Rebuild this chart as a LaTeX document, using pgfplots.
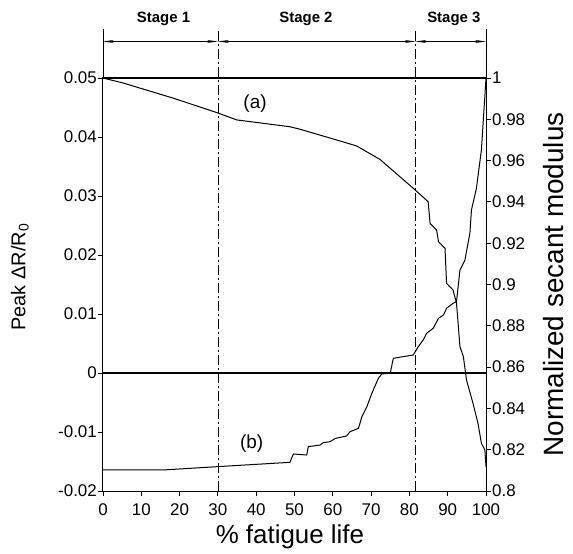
\documentclass[border=0pt]{standalone}
\usepackage{pgfplots}
\pgfplotsset{compat=1.18}
\usepackage{fontspec}
\setmainfont{Liberation Sans}
\usetikzlibrary{arrows.meta}

\begin{document}
\begin{tikzpicture}
\path[use as bounding box] (-103bp,-63bp) rectangle (470bp,491bp);
\begin{axis}[
  scale only axis, width=383bp, height=413bp,
  xmin=0, xmax=100, ymin=-0.02, ymax=0.05,
  clip=false, scaled y ticks=false, scaled x ticks=false,
  xtick={0,10,20,30,40,50,60,70,80,90,100},
  xticklabels={0,10,20,30,40,50,60,70,80,90,100},
  ytick={-0.02,-0.01,0,0.01,0.02,0.03,0.04,0.05},
  yticklabels={-0.02,-0.01,0,0.01,0.02,0.03,0.04,0.05},
  ytick pos=left, xtick pos=bottom,
  tick align=outside, major tick length=5bp,
  tick style={black, line width=0.8bp},
  tick label style={font=\fontsize{17}{17}\selectfont},
  yticklabel style={inner sep=1bp},
  xticklabel style={inner sep=1bp, yshift=-6bp},
  axis line style={line width=1bp},
  xlabel={\% fatigue life},
  xlabel style={font=\fontsize{26}{26}\selectfont, at={(axis description cs:0.488,-0.111)}, anchor=center},
  ylabel={Peak ΔR/R\textsubscript{0}},
  ylabel style={font=\fontsize{20}{20}\selectfont, at={(axis description cs:-0.217,0.518)}, anchor=center},
]
\addplot[black, line width=1bp] coordinates {
(0,-0.01644) (15.7,-0.01644) (29.7,-0.01588) (48.8,-0.01514) (49.7,-0.01373)
(53.2,-0.01390) (53.6,-0.01249) (56.7,-0.01220) (57.5,-0.01181) (59.3,-0.01164)
(60.6,-0.01110) (63.6,-0.01068) (64.5,-0.00995) (66.7,-0.00937) (67.6,-0.00741)
(68.9,-0.00571) (70.2,-0.00344) (71.9,-0.00090) (72.8,-0.00017) (75,0.0)
(75.8,0.00249) (81,0.00305) (82.3,0.00444) (83.6,0.00559) (84.5,0.00673)
(86.2,0.00757) (87.6,0.00927) (88.9,0.00983) (89.7,0.01097) (91.4,0.01181)
(92.3,0.01209) (93.2,0.01746) (94.5,0.01915) (95.8,0.02373) (96.2,0.02763)
(97.5,0.03131) (98.8,0.03780) (99.3,0.04288) (99.7,0.04690) (100,0.05)
};
% zero line
\addplot[black, line width=1.1bp] coordinates {(0,0) (100,0)};
\addplot[black, line width=1.6bp] coordinates {(0,0.05) (100,0.05)};
% stage boundaries
\draw[black, line width=0.7bp, dash pattern=on 10bp off 3bp on 2bp off 3bp] (axis cs:30,-0.02) -- (axis cs:30,0.0583);
\draw[black, line width=0.7bp, dash pattern=on 10bp off 3bp on 2bp off 3bp] (axis cs:81.6,-0.02) -- (axis cs:81.6,0.0583);
\draw[black, line width=0.8bp] (axis cs:0,0.05) -- (axis cs:0,0.0583);
\draw[black, line width=0.8bp] (axis cs:100,0.05) -- (axis cs:100,0.0583);
% stage arrows
\draw[black, line width=0.8bp, {Stealth[length=11bp,width=3bp]}-{Stealth[length=11bp,width=3bp]}] (axis cs:0,0.05619) -- (axis cs:30,0.05619);
\draw[black, line width=0.8bp, {Stealth[length=11bp,width=3bp]}-{Stealth[length=11bp,width=3bp]}] (axis cs:30,0.05619) -- (axis cs:81.6,0.05619);
\draw[black, line width=0.8bp, {Stealth[length=11bp,width=3bp]}-{Stealth[length=11bp,width=3bp]}] (axis cs:81.6,0.05619) -- (axis cs:100,0.05619);
\node[font=\bfseries\fontsize{15}{15}\selectfont] at (axis cs:15.8,0.0601) {Stage 1};
\node[font=\bfseries\fontsize{15}{15}\selectfont] at (axis cs:53,0.0601) {Stage 2};
\node[font=\bfseries\fontsize{15}{15}\selectfont] at (axis cs:91.6,0.0601) {Stage 3};
\node[font=\fontsize{19}{19}\selectfont] at (axis cs:39.7,0.0457) {(a)};
\node[font=\fontsize{19}{19}\selectfont] at (axis cs:38.8,-0.0119) {(b)};
\end{axis}
\begin{axis}[
  scale only axis, width=383bp, height=413bp,
  xmin=0, xmax=100, ymin=0.8, ymax=1,
  axis y line*=right, axis x line=none, scaled y ticks=false,
  ytick={0.8,0.82,0.84,0.86,0.88,0.9,0.92,0.94,0.96,0.98,1},
  yticklabels={0.8,0.82,0.84,0.86,0.88,0.9,0.92,0.94,0.96,0.98,1},
  tick align=outside, major tick length=5bp,
  tick style={black, line width=0.8bp},
  tick label style={font=\fontsize{17}{17}\selectfont},
  yticklabel style={inner sep=1bp},
  axis line style={line width=1bp},
  ylabel={Normalized secant modulus},
  ylabel style={font=\fontsize{28}{28}\selectfont, at={(axis description cs:1.175,0.5)}, anchor=center},
]
\addplot[black, line width=1bp] coordinates {
(0,1.0) (5.2,0.9976) (18.4,0.9902) (29.8,0.9832) (34.9,0.9797) (48.8,0.9764)
(51.4,0.9752) (61.9,0.9695) (66.2,0.9671) (72.3,0.9606) (81,0.9466) (84.9,0.9401)
(85.4,0.9296) (87.1,0.9264) (87.6,0.9207) (89.3,0.9175) (89.7,0.9006) (91.4,0.8973)
(92.3,0.8909) (93.2,0.8699) (94.1,0.8650) (94.9,0.8538) (96.6,0.8425) (97.9,0.8328)
(98.8,0.8231) (99.7,0.8199) (100,0.8118)
};
\end{axis}
\end{tikzpicture}
\end{document}
